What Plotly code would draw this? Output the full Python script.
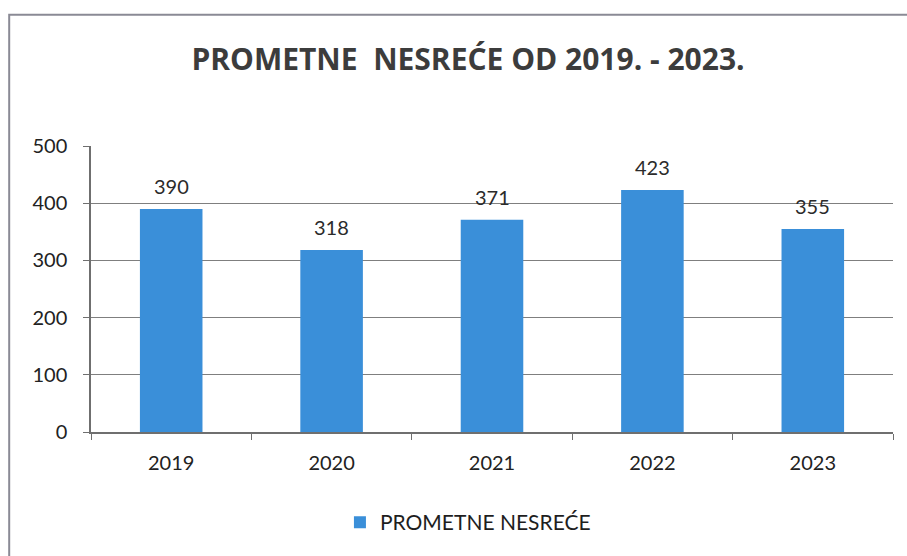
import plotly.graph_objects as go

years = ["2019", "2020", "2021", "2022", "2023"]
accidents = [390, 318, 371, 423, 355]
series_name = "PROMETNE NESREĆE"
chart_title = "PROMETNE  NESREĆE OD 2019. - 2023."

fig = go.Figure()
fig.add_trace(go.Bar(
    x=years,
    y=accidents,
    name=series_name,
    marker=dict(color="#3a8fd9", line=dict(width=0)),
    showlegend=True,
))

# value labels sit a bit higher above the bars than plotly's "outside" text
# (numeric-looking category names get read as serial numbers, so use the index)
for i, val in enumerate(accidents):
    fig.add_annotation(
        x=i, y=val, text=str(val), showarrow=False,
        yanchor="bottom", yshift=9,
        font=dict(family="Lato", size=20, color="#2b2b2b"),
    )

fig.update_layout(
    width=907,
    height=556,
    margin=dict(l=91, r=14, t=146, b=124),
    paper_bgcolor="white",
    plot_bgcolor="white",
    bargap=0.61,
    title=dict(
        text="<b>" + chart_title + "</b>",
        x=0.516, xref="container", xanchor="center",
        y=0.893, yref="container", yanchor="middle",
        font=dict(family="Open Sans", size=30, color="#3c3c3c"),
    ),
    font=dict(family="Lato", color="#222"),
    legend=dict(
        orientation="h",
        x=0.47, xanchor="center",
        y=0.06, yref="container", yanchor="middle",
        font=dict(family="Lato", size=21, color="#1e1e1e"),
        itemwidth=30,
    ),
    shapes=[dict(
        type="rect", xref="paper", yref="paper",
        x0=-0.102, x1=1.1, y0=-0.6, y1=1.459,
        line=dict(color="#8a8a95", width=2),
    )],
)

fig.update_xaxes(
    type="category",
    showline=True, linecolor="#6f6f6f", linewidth=1.5,
    ticks="outside", ticklen=6, tickcolor="#6f6f6f", tickson="boundaries",
    ticklabelstandoff=12,
    tickfont=dict(family="Lato", size=20, color="#222"),
    showgrid=False,
)
fig.update_yaxes(
    range=[0, 500], dtick=100,
    showline=True, linecolor="#6f6f6f", linewidth=1.5,
    ticks="outside", ticklen=6, tickcolor="#6f6f6f",
    ticklabelstandoff=12,
    showgrid=True, gridcolor="#7f7f7f", gridwidth=1.4,
    zeroline=False,
    tickfont=dict(family="Lato", size=20, color="#222"),
)

fig.write_html(
    "out.html",
    config={"displayModeBar": False},
    post_script="document.body.style.margin='0';",
)
